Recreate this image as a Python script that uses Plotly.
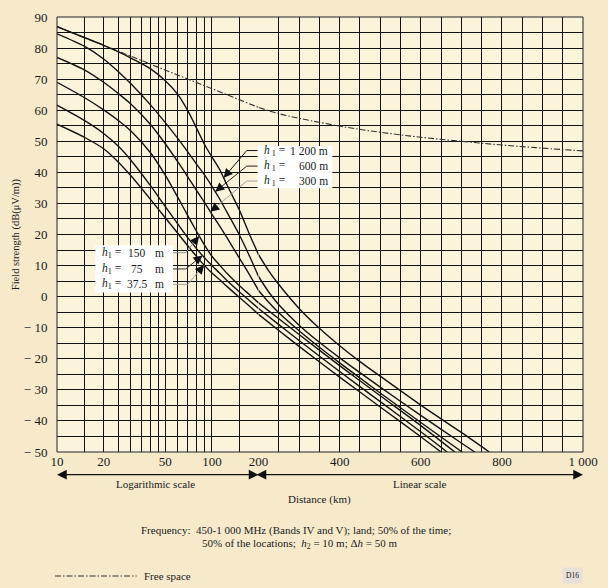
import numpy as np
import plotly.graph_objects as go

# ---------------- data ----------------
# logarithmic part of the distance axis (km)
d_log = [10, 15, 20, 25, 30, 40, 50, 60, 70, 80, 90, 100, 112, 125, 150, 175, 200]
# field strength (dB(uV/m)) of each curve on the logarithmic part
e1200_log = [86.9, 83.4, 80.9, 78.8, 76.8, 73.4, 69.5, 65.2, 59.8, 54.0, 48.8, 45.0, 41.0, 36.0, 28.0, 20.0, 13.5]
e600_log = [84.6, 80.6, 76.5, 72.3, 68.5, 61.8, 56.0, 51.0, 46.5, 42.5, 39.0, 35.5, 31.5, 27.2, 20.0, 13.0, 6.5]
e300_log = [77.0, 73.0, 69.0, 65.3, 62.0, 55.5, 49.2, 43.5, 38.5, 34.0, 30.2, 26.5, 22.8, 19.0, 12.5, 7.0, 2.0]
e150_log = [69.0, 64.1, 60.1, 56.6, 53.3, 46.4, 39.1, 32.1, 26.0, 20.8, 16.4, 13.0, 10.2, 7.5, 3.6, 0.6, -2.0]
e75_log = [61.6, 56.7, 52.5, 48.3, 43.9, 35.8, 29.0, 23.5, 18.9, 15.3, 12.4, 10.0, 7.6, 5.2, 1.6, -1.3, -3.8]
e37_log = [55.5, 51.3, 47.6, 43.2, 38.9, 31.4, 25.4, 20.5, 16.3, 12.8, 9.9, 7.6, 5.5, 3.3, -0.2, -3.1, -5.7]

# linear part of the distance axis (km); each curve ends where it reaches -50
d1200_lin = [200, 225, 250, 300, 350, 400, 450, 500, 600, 700, 769]
e1200_lin = [13.5, 8.3, 3.9, -3.8, -10.2, -15.8, -20.9, -25.6, -34.9, -43.7, -50.0]
d600_lin = [200, 225, 250, 300, 350, 400, 500, 600, 700, 733]
e600_lin = [6.5, 1.5, -2.6, -9.2, -14.7, -19.7, -29.1, -38.2, -47.1, -50.0]
d300_lin = [200, 225, 250, 300, 350, 400, 500, 600, 702]
e300_lin = [2.0, -1.8, -5.2, -11.0, -16.3, -21.3, -31.0, -40.5, -50.0]
d150_lin = [200, 250, 300, 400, 500, 600, 684]
e150_lin = [-2.0, -7.1, -12.2, -22.2, -31.9, -41.5, -50.0]
d75_lin = [200, 250, 300, 400, 500, 600, 665]
e75_lin = [-3.8, -9.0, -14.1, -24.1, -33.8, -43.5, -50.0]
d37_lin = [200, 250, 300, 400, 500, 600, 650]
e37_lin = [-5.7, -10.9, -16.0, -25.9, -35.5, -45.1, -50.0]

# free space
dfs_log = [10, 20, 50, 100, 200]
efs_log = [86.9, 80.9, 72.9, 66.9, 60.9]
dfs_lin = [200, 250, 300, 400, 500, 600, 700, 800, 900, 1000]
efs_lin = [60.9, 58.9, 57.4, 54.9, 52.9, 51.3, 50.0, 48.8, 47.8, 46.9]

# tick / grid values
log_grid = [10, 15, 20, 25, 30, 35, 40, 45, 50, 60, 70, 80, 90, 100, 150, 200]
log_labels = {10: "10", 20: "20", 50: "50", 100: "100", 200: "200"}
lin_grid = list(range(200, 1001, 50))
lin_labels = {400: "400", 600: "600", 800: "800", 1000: "1 000"}
y_grid = list(range(-50, 91, 5))

h1_names = ["1 200 m", "600 m", "300 m", "150", "75", "37.5"]
# distance (km) at which each label's arrow touches its curve
arrow_d = [119, 105, 97.7, 82.8, 86.9, 89]

# ---------------- styling / layout ----------------
W, H = 608, 588
L, R, T, B = 57, 16, 10, 136
PW, PH = W - L - R, H - T - B
xsplit = 205 / PW
SERIF = "Liberation Serif, Times New Roman, serif"
PAPER = "#F6EACB"
PLOT = "#FCF3DB"
INK = "#141414"


def px(xp, yp):
    return (xp - L) / PW, (T + PH - yp) / PH


fig = go.Figure()

curves = [
    (e1200_log, d1200_lin, e1200_lin),
    (e600_log, d600_lin, e600_lin),
    (e300_log, d300_lin, e300_lin),
    (e150_log, d150_lin, e150_lin),
    (e75_log, d75_lin, e75_lin),
    (e37_log, d37_lin, e37_lin),
]

fsdash = "6px,2px,1.5px,2px"
fig.add_trace(go.Scatter(x=dfs_log, y=efs_log, xaxis="x", yaxis="y", mode="lines",
                         line=dict(color="#333", width=1.1, dash=fsdash),
                         hoverinfo="skip", showlegend=False))
fig.add_trace(go.Scatter(x=dfs_lin, y=efs_lin, xaxis="x2", yaxis="y", mode="lines",
                         line=dict(color="#333", width=1.1, dash=fsdash, shape="spline"),
                         hoverinfo="skip", showlegend=False))

for elog, dlin, elin in curves:
    fig.add_trace(go.Scatter(x=d_log, y=elog, xaxis="x", yaxis="y", mode="lines",
                             line=dict(color=INK, width=1.4, shape="spline", smoothing=0.8),
                             hoverinfo="skip", showlegend=False))
    fig.add_trace(go.Scatter(x=dlin, y=elin, xaxis="x2", yaxis="y", mode="lines",
                             line=dict(color=INK, width=1.4, shape="spline", smoothing=0.8),
                             hoverinfo="skip", showlegend=False))

tickfont = dict(family=SERIF, size=13, color="#1a1a1a")
grid = dict(showgrid=True, gridcolor="#111", gridwidth=1, zeroline=False, showline=False)

fig.update_layout(
    width=W, height=H, margin=dict(l=L, r=R, t=T, b=B),
    paper_bgcolor=PAPER, plot_bgcolor=PLOT, showlegend=False,
    font=dict(family=SERIF, size=11, color="#1a1a1a"),
    xaxis=dict(type="log", domain=[0, xsplit], range=[1, np.log10(200)], anchor="y",
               tickmode="array", tickvals=log_grid,
               ticktext=[log_labels.get(v, "") for v in log_grid],
               ticks="", tickfont=tickfont, **grid),
    xaxis2=dict(domain=[xsplit, 1], range=[200, 1000], anchor="y",
                tickmode="array", tickvals=lin_grid,
                ticktext=[lin_labels.get(v, "") for v in lin_grid],
                ticks="", tickfont=tickfont, **grid),
    yaxis=dict(range=[-50, 90], anchor="x", tickmode="array", tickvals=y_grid,
               ticktext=[(str(v) if v >= 0 else "\u2212 " + str(-v)) if v % 10 == 0 else "" for v in y_grid],
               ticks="outside", ticklen=6, tickcolor="rgba(0,0,0,0)", tickfont=tickfont, **grid),
)

shapes = []
# plot frame
shapes.append(dict(type="rect", xref="paper", yref="paper", x0=0, y0=0, x1=1, y1=1,
                   line=dict(color="#222", width=1), layer="above"))

# label boxes
bx0, by0 = px(261, 141)
bx1, by1 = px(337, 184)
shapes.append(dict(type="rect", xref="paper", yref="paper", x0=bx0, y0=by1, x1=bx1, y1=by0,
                   fillcolor="white", line=dict(width=0), layer="above"))
lx0, ly0 = px(96, 242)
lx1, ly1 = px(175, 290)
shapes.append(dict(type="rect", xref="paper", yref="paper", x0=lx0, y0=ly1, x1=lx1, y1=ly0,
                   fillcolor="white", line=dict(width=0), layer="above"))

# leaders
upper_y = [145.7, 161.5, 176.7]
lower_y = [249.5, 266.0, 281.7]
leader_cols = ["#111", "#222", "#a0a0a0", "#909090", "#333", "#a0a0a0"]
knees = [(250, upper_y[0]), (250, upper_y[1]), (250, upper_y[2]),
         (188, lower_y[0]), (188, lower_y[1]), (190, lower_y[2])]
edges = [261, 261, 261, 175, 175, 175]
px_per_dec = 205 / np.log10(20)

annotations = []
for i, (elog, _, _) in enumerate(curves):
    kx, ky = knees[i]
    td = np.log10(arrow_d[i])
    te = float(np.interp(td, np.log10(d_log), elog))
    tx = L + (td - 1) * px_per_dec
    ty = T + (90 - te) * PH / 140
    for (ax0, ay0), (ax1, ay1) in [((kx, ky), (edges[i], ky)), ((kx, ky), (tx, ty))]:
        p0 = px(ax0, ay0)
        p1 = px(ax1, ay1)
        shapes.append(dict(type="line", xref="paper", yref="paper", x0=p0[0], y0=p0[1], x1=p1[0], y1=p1[1],
                           line=dict(color=leader_cols[i], width=1), layer="above"))
    ln = np.hypot(kx - tx, ky - ty)
    annotations.append(dict(x=td, y=te, xref="x", yref="y",
                            ax=(kx - tx) * 9 / ln, ay=(ky - ty) * 9 / ln,
                            text="", showarrow=True, arrowhead=2, arrowsize=1.5, arrowwidth=1.2,
                            arrowcolor="#111", standoff=0))

lab_font = dict(family=SERIF, size=11.5, color="#1a1a1a")
for i in range(3):
    xa, ya = px(266, upper_y[i])
    annotations.append(dict(x=xa, y=ya, xref="paper", yref="paper", xanchor="left", yanchor="middle",
                            text="<i>h</i><sub> 1</sub> =", showarrow=False, font=lab_font))
    xb, _ = px(335, upper_y[i])
    annotations.append(dict(x=xb, y=ya, xref="paper", yref="paper", xanchor="right", yanchor="middle",
                            text=h1_names[i], showarrow=False, font=lab_font))
for j in range(3):
    i = j + 3
    xa, ya = px(101, lower_y[j])
    annotations.append(dict(x=xa, y=ya, xref="paper", yref="paper", xanchor="left", yanchor="middle",
                            text="<i>h</i><sub>1</sub> =", showarrow=False, font=lab_font))
    xb, _ = px(138, lower_y[j])
    annotations.append(dict(x=xb, y=ya, xref="paper", yref="paper", xanchor="center", yanchor="middle",
                            text=h1_names[i], showarrow=False, font=lab_font))
    xc, _ = px(161, lower_y[j])
    annotations.append(dict(x=xc, y=ya, xref="paper", yref="paper", xanchor="center", yanchor="middle",
                            text="m", showarrow=False, font=lab_font))

# scale arrows under the axis
ay_ = px(0, 475)[1]
annotations.append(dict(x=0, y=ay_, xref="paper", yref="paper", ax=203, ay=0, text="",
                        showarrow=True, arrowhead=2, arrowside="end+start", arrowsize=1.5,
                        arrowwidth=1.3, arrowcolor="#111", standoff=0, startstandoff=0))
annotations.append(dict(x=1, y=ay_, xref="paper", yref="paper", ax=-328, ay=0, text="",
                        showarrow=True, arrowhead=2, arrowside="end+start", arrowsize=1.5,
                        arrowwidth=1.3, arrowcolor="#111", standoff=0, startstandoff=0))


def txt(xp, yp, s, size=11, anchor="center", **kw):
    x, y = px(xp, yp)
    annotations.append(dict(x=x, y=y, xref="paper", yref="paper", xanchor=anchor, yanchor="middle",
                            text=s, showarrow=False, font=dict(family=SERIF, size=size, color="#1a1a1a"), **kw))


txt(157, 485, "Logarithmic scale", 11)
txt(426, 485, "Linear scale", 11)
txt(324, 500, "Distance (km)", 11)
txt(140, 532, "Frequency:  450-1 000 MHz (Bands IV and V); land; 50% of the time;", 11, "left")
txt(202, 545, "50% of the locations;  <i>h</i><sub>2</sub> = 10 m; \u0394<i>h</i> = 50 m", 11, "left")
txt(143, 578, "Free space", 11, "left")
txt(15, 231, "Field strength (dB(\u03bcV/m))", 10.5, textangle=-90)
txt(581, 577, "D16", 7.5, bgcolor="#E6E1D8", borderpad=3)

# legend sample line
q0 = px(55, 578)
q1 = px(138, 578)
shapes.append(dict(type="line", xref="paper", yref="paper", x0=q0[0], y0=q0[1], x1=q1[0], y1=q1[1],
                   line=dict(color="#333", width=1.1, dash=fsdash)))

fig.update_layout(shapes=shapes, annotations=annotations)
fig.write_html("out.html", config={"displayModeBar": False},
               post_script="document.body.style.margin='0';document.body.style.background='%s';" % PAPER)
